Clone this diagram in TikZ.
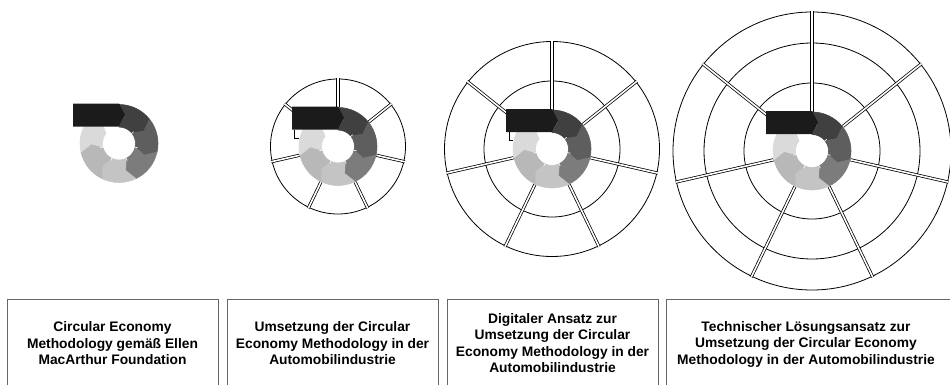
\documentclass[tikz,border=0pt]{standalone}
\usepackage{fontspec}
\setmainfont{Liberation Sans}
\definecolor{segA}{HTML}{404040}
\definecolor{segB}{HTML}{5E5E5E}
\definecolor{segC}{HTML}{7C7C7C}
\definecolor{segD}{HTML}{C4C4C4}
\definecolor{segE}{HTML}{B8B8B8}
\definecolor{segF}{HTML}{DADADA}
\definecolor{blackbox}{HTML}{1B1B1B}
\definecolor{boxline}{HTML}{666666}
\newcommand\mygear[2]{%
  \begin{scope}[shift={(#1,#2)}]
    \foreach \a/\c in {90/segA,38.5714/segB,-12.8571/segC,-64.2857/segD,-115.7143/segE,-167.1429/segF}{%
      \pgfmathsetmacro\b{\a-51.4286}%
      \pgfmathsetmacro\bt{\b-12}%
      \pgfmathsetmacro\at{\a-12}%
      \filldraw[fill=\c, draw=\c, line width=0.6pt, line join=round] (\a:39) arc[start angle=\a, end angle=\b, radius=39] -- (\bt:27.75) -- (\b:16.5)
        arc[start angle=\b, end angle=\a, radius=16.5] -- (\at:27.75) -- cycle;
    }
    \foreach \t in {38.5714,-12.8571,-64.2857,-115.7143,-167.1429}{%
      \draw[tick] (\t:15.5) -- (\t:19);
    }
    \fill[blackbox] (-46,17) -- (-46,40) -- (0,40) -- (6,28.5) -- (0,17) -- cycle;
  \end{scope}}
\newcommand\myseps[3]{%
  \begin{scope}[shift={(#1,#2)}]
    \foreach \t in {90,38.5714,-12.8571,-64.2857,-115.7143,-167.1429,141.4286}{%
      \draw[sep] (\t:39.5) -- (\t:#3);
    }
  \end{scope}}
\begin{document}
\begin{tikzpicture}[x=1pt,y=1pt,
  circ/.style={draw=black, line width=0.8pt},
  sep/.style={draw=black, line width=0.75pt, double=white, double distance=1.6pt},
  tick/.style={draw=white, line width=0.6pt},
  box/.style={draw=boxline, line width=0.9pt},
  lbl/.style={font=\bfseries\fontsize{13.8}{16.5}\selectfont, align=center, inner sep=0pt}]
\useasboundingbox (0,0) rectangle (950,384);
\clip (0,0) rectangle (950,384);

% diagram 1
\mygear{119}{240.5}

% diagram 2
\draw[circ] (338,237.5) circle[radius=67.5];
\myseps{338}{237.5}{68.5}
\mygear{338}{237.5}
\draw[black, line width=0.6pt] (294.5,254.5) -- (294.5,246) -- (298.5,246);

% diagram 3
\draw[circ] (552,235) circle[radius=68];
\draw[circ] (552,235) circle[radius=107.5];
\myseps{552}{235}{108.5}
\mygear{552}{235}
\draw[black, line width=0.6pt] (509,252) -- (509,243.5) -- (513,243.5);

% diagram 4
\draw[circ] (812,233) circle[radius=68];
\draw[circ] (812,233) circle[radius=108];
\draw[circ] (812,233) circle[radius=139];
\myseps{812}{233}{140}
\mygear{812}{233}

% boxes
\draw[box] (7,-10) -- (7,85) -- (218,85) -- (218,-10);
\draw[box] (227,-10) -- (227,85) -- (438,85) -- (438,-10);
\draw[box] (447,-10) -- (447,85) -- (658,85) -- (658,-10);
\draw[box] (666,-10) -- (666,85) -- (960,85);

\node[lbl] (t1) at (112.5,40.5) {Circular Economy\\Methodology gemäß Ellen\\MacArthur Foundation};
\node[lbl] (t2) at (332.5,40.5) {Umsetzung der Circular\\Economy Methodology in der\\Automobilindustrie};
\node[lbl] (t3) at (552.5,41) {Digitaler Ansatz zur\\Umsetzung der Circular\\Economy Methodology in der\\Automobilindustrie};
\node[lbl] (t4) at (806,40) {Technischer Lösungsansatz zur\\Umsetzung der Circular Economy\\Methodology in der Automobilindustrie};
\end{tikzpicture}
\end{document}
